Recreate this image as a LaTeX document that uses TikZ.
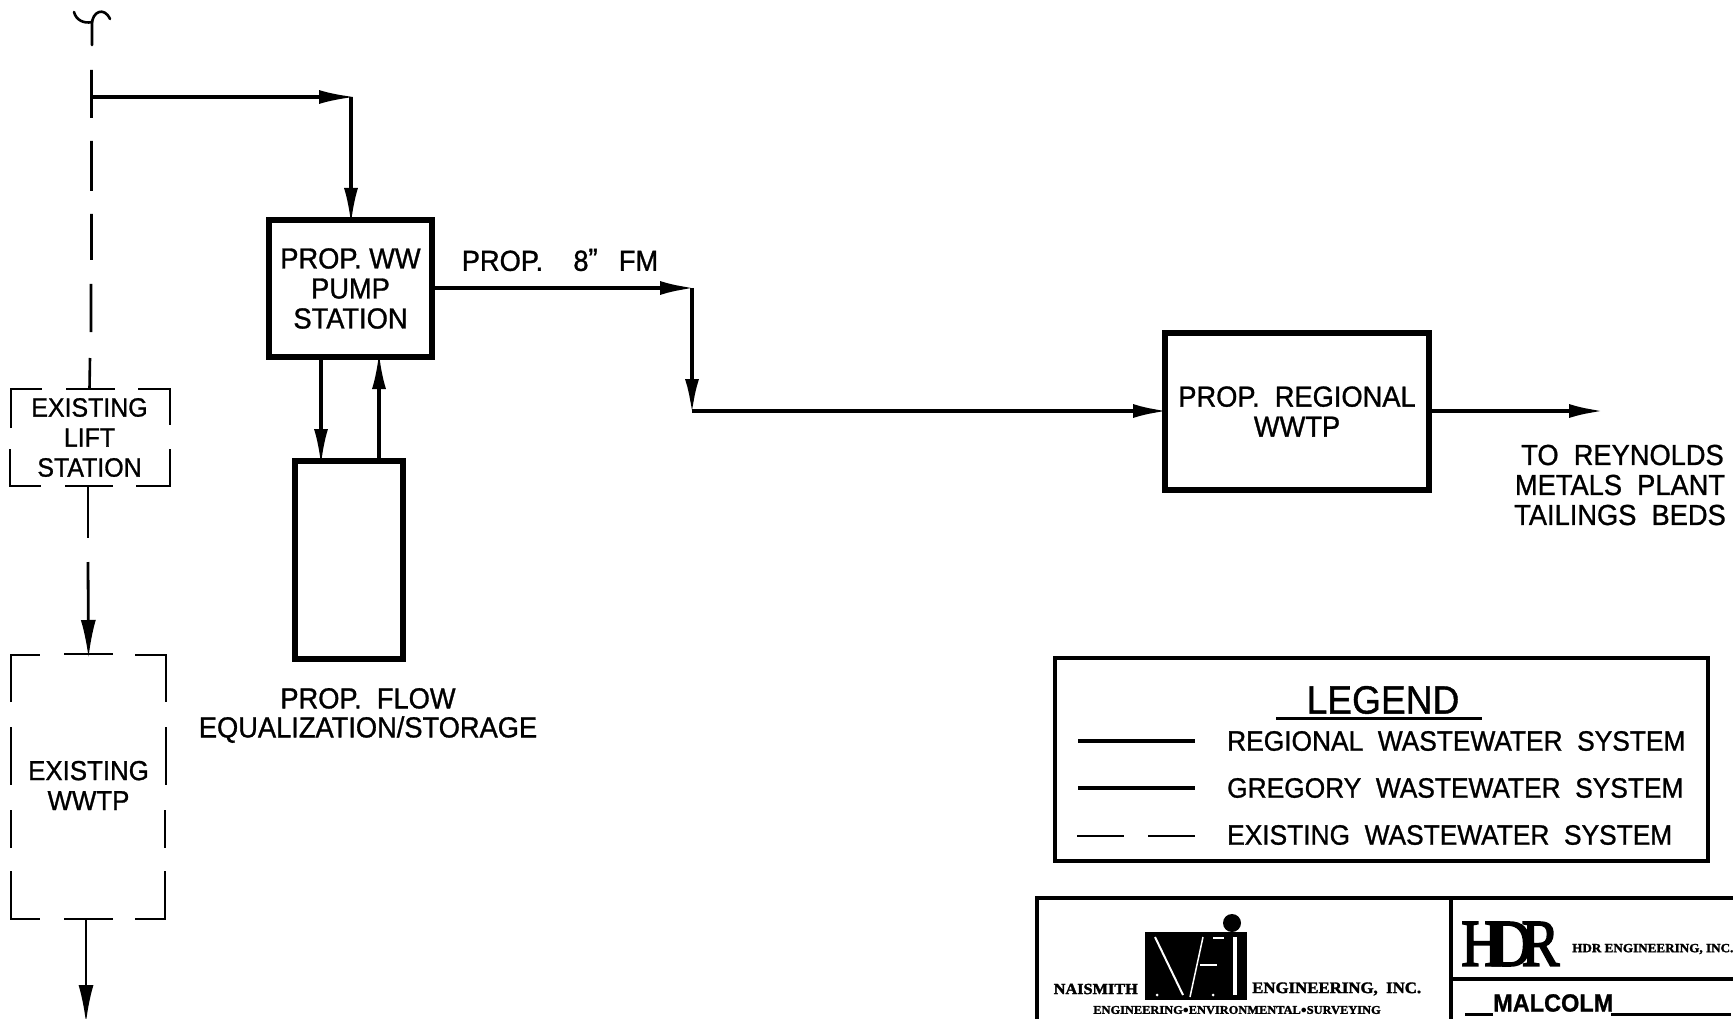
\documentclass[tikz,border=0pt]{standalone}
\usepackage{fontspec}
\usepackage{graphicx}
\setmainfont[FakeStretch=0.94,FakeBold=1]{Liberation Sans}
\newfontfamily\titlefont[FakeStretch=1.05,FakeBold=2]{Liberation Serif}
\newfontfamily\hdrfont[FakeBold=2.5]{Liberation Serif}
\usetikzlibrary{arrows.meta,calc}
\tikzset{
  x=1pt,y=-1pt,
  box/.style={draw,line width=5.5pt,outer sep=0pt,minimum width=#1,inner sep=0pt,align=center,font=\fontsize{29}{31}\selectfont},
  tip/.style={-{Latex[length=36pt,width=14pt]},shorten >=-4pt},
  flow/.style={line width=4.4pt,tip},
  thinflow/.style={line width=3.4pt,tip},
  exist/.style={line width=2.6pt},
  exarrow/.style={line width=2.8pt,-{Latex[length=38pt,width=15pt]},shorten >=-4pt},
  lbl/.style={inner sep=0pt,align=center,font=\fontsize{29}{31}\selectfont},
  liftlbl/.style={inner sep=0pt,align=center,font=\fontsize{26.5}{31}\selectfont},
  exlbl/.style={inner sep=0pt,align=center,font=\fontsize{27.5}{31}\selectfont},
  leg/.style={inner sep=0pt,anchor=west,font=\fontsize{28}{31}\selectfont},
  frame/.style={draw,line width=3.4pt,outer sep=0pt},
}
\begin{document}
\begin{tikzpicture}
\useasboundingbox (0,0) rectangle (1733,1019);
% boxes
\node[box=163pt,minimum height=137pt] (pump) at (350.5,288.5) {PROP. WW\\[-1pt]PUMP\\[-1pt]STATION};
\node[box=108pt,minimum height=198pt] (flowbox) at (349,560) {};
\node[box=264pt,minimum height=157pt] (wwtp) at (1297,411.5) {PROP.\ \ REGIONAL\\[-1pt]WWTP};
\node[liftlbl,minimum width=162pt,minimum height=97pt] (lift) at (89.5,437.5) {EXISTING\\[-1pt]LIFT\\[-1pt]STATION};
\node[exlbl,minimum width=155pt,minimum height=266pt] (exwwtp) at (88.5,785.5) {EXISTING\\[-1pt]WWTP};
% dashed boxes
\draw[exist] (11,428) -- (11,389) -- (42,389) (66,389) -- (115,389) (138,389) -- (170,389) -- (170,425);
\draw[exist] (10,449) -- (10,486) -- (41,486) (65,486) -- (113,486) (136,486) -- (170,486) -- (170,449);
\draw[exist] (11,702) -- (11,655) -- (40,655) (64,654) -- (113,654) (135,655) -- (166,655) -- (166,702);
\draw[exist] (11,727) -- (11,785) (166,727) -- (166,785);
\draw[exist] (11,871) -- (11,919) -- (40,919) (64,919) -- (113,919) (135,919) -- (165,919) -- (165,871);
\draw[exist] (11,810) -- (11,848) (165,810) -- (165,848);
% centre line symbol
\draw[line width=2.6pt,line cap=round] (92,45) -- (92,24) .. controls (92,12) and (104,6) .. (110,19);
\draw[line width=2.6pt,line cap=round] (92,22) .. controls (84,24) and (76,20) .. (74,12);
\coordinate (tee) at (91.5,97);
\coordinate (liftin) at (89.5,389);
\coordinate (liftout) at (88,486);
\coordinate (wwin) at (88.5,654);
\coordinate (wwout) at (86,919);
\coordinate (endout) at (86,1019);
\draw[exist] (91.5,70) -- (91.5,118) (91.5,141) -- (91.5,191) (91.5,214) -- (91.5,260) (91,284) -- (91,332) (90,358) -- (liftin);
\draw[exist] (liftout) -- (88,538);
\draw[exarrow] (88,562) -- (wwin);
\draw[exarrow] (wwout) -- (endout);
% flows
\coordinate (c1) at (351,97);
\coordinate (c2) at (692,288);
\coordinate (c3) at (692,411);
\coordinate (outend) at (1601,411);
\draw[thinflow] (tee) -- (c1);
\draw[thinflow] (c1) -- (pump.north -| c1);
\draw[thinflow] (321,357) -- (321,461);
\draw[thinflow] (379,461) -- (379,357);
\draw[flow] (pump.east |- c2) -- (c2);
\draw[flow] (c2) -- (c3);
\draw[flow] (c3) -- (wwtp.west |- c3);
\draw[flow] (wwtp.east |- outend) -- (outend);
% labels
\node[lbl] (l8) at (560,260) {PROP.\ \ \ \ 8\rlap{\raisebox{2pt}{"}}\ \ \ \ FM};
\node[lbl] (lreynolds) at (1620,485) {\hspace*{5pt}TO\ \ REYNOLDS\\[-1pt]METALS\ \ PLANT\\[-1pt]TAILINGS\ \ BEDS};
\node[lbl] (lflow) at (368,715.5) {PROP.\ \ FLOW\\[-2pt]EQUALIZATION/STORAGE};
% legend
\node[frame,minimum width=653pt,minimum height=203pt] (legend) at (1381.5,759.5) {};
\node[inner sep=0pt,font=\fontsize{39.5}{43}\selectfont] (lt) at (1383,700) {LEGEND};
\coordinate (lt1) at (1276,718);
\coordinate (lt2) at (1482,718);
\draw[line width=3pt] (lt1) -- (lt2);
\node[leg] (r1) at (1227,741) {REGIONAL\ \ WASTEWATER\ \ SYSTEM};
\node[leg] (r2) at (1227,788) {GREGORY\ \ WASTEWATER\ \ SYSTEM};
\node[leg] (r3) at (1227,835) {EXISTING\ \ WASTEWATER\ \ SYSTEM};
\draw[line width=4.5pt] (1078,741) -- (1195,741);
\draw[line width=3.4pt] (1078,788) -- (1195,788);
\draw[line width=2pt] (1077,836) -- (1124,836) (1148,836) -- (1195,836);
% title block
\draw[line width=3.4pt] (1733,898) -- (1037,898) -- (1037,1019);
\draw[line width=3.4pt] (1451,898) -- (1451,1019);
\draw[line width=3.4pt] (1451,979) -- (1733,979);
\fill (1145,932) rectangle (1247,1000);
\fill (1232,923) circle (9pt);
\draw[white,line width=2pt] (1155,937) -- (1183,995);
\draw[white,line width=1.5pt] (1203,937) -- (1190,997);
\draw[white,line width=1.2pt] (1200,965) -- (1217,965);
\draw[white,line width=1.5pt] (1213,938) -- (1224,938);
\draw[white,line width=3.5pt] (1235,937) -- (1235,995);
\fill[white] (1157,995) circle (1.5pt) (1213,995) circle (1.5pt);
\node[inner sep=0pt,anchor=east,font=\titlefont\bfseries\fontsize{15.5}{18}\selectfont] (nm) at (1138,989) {NAISMITH};
\node[inner sep=0pt,anchor=west,font=\titlefont\bfseries\fontsize{16}{18}\selectfont] (eng) at (1252,989) {ENGINEERING,\ \ INC.};
\node[inner sep=0pt,font=\titlefont\bfseries\fontsize{11.8}{11}\selectfont] (sub) at (1237,1010) {ENGINEERING$\bullet$ENVIRONMENTAL$\bullet$SURVEYING};
\node[inner sep=0pt,anchor=west,font=\hdrfont\fontsize{62}{62}\selectfont] (hdr) at (1461,944) {\scalebox{0.92}[1.08]{H\kern-13pt D\kern-11pt R}};
\node[inner sep=0pt,anchor=west,font=\titlefont\bfseries\fontsize{12.5}{12}\selectfont] (hdrt) at (1572,949) {HDR ENGINEERING, INC.};
\node[inner sep=0pt,anchor=west,font=\bfseries\fontsize{25}{28}\selectfont] (mal) at (1493,1003) {MALCOLM};
\draw[line width=3pt] (1465,1014) -- (1493,1014) (1611,1014) -- (1731,1014);
\end{tikzpicture}
\end{document}
